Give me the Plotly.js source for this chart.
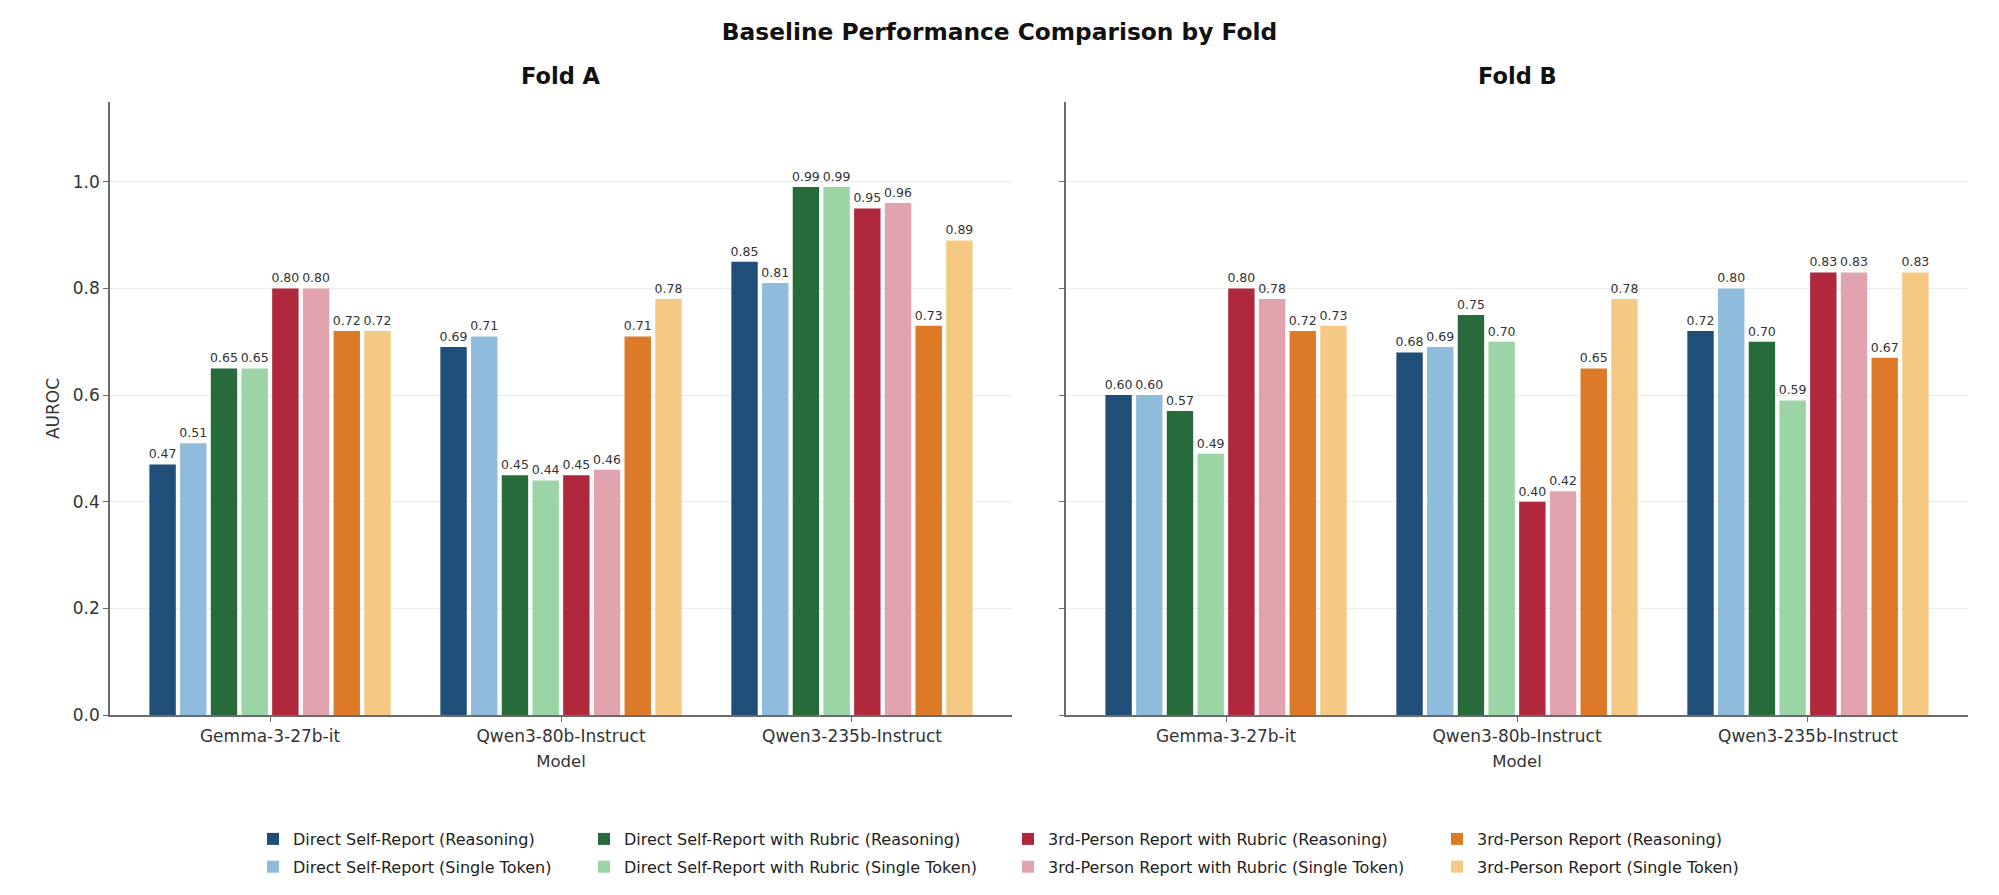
<!DOCTYPE html>
<html>
<head>
<meta charset="utf-8">
<script src="https://cdn.plot.ly/plotly-3.0.1.min.js"></script>
<style>html,body{margin:0;padding:0;background:#fff;}#chart{width:1999px;height:895px;}</style>
</head>
<body>
<div id="chart"></div>
<script>
// ---- data ----
const models = ['Gemma-3-27b-it', 'Qwen3-80b-Instruct', 'Qwen3-235b-Instruct'];
const methods = [
  'Direct Self-Report (Reasoning)',
  'Direct Self-Report (Single Token)',
  'Direct Self-Report with Rubric (Reasoning)',
  'Direct Self-Report with Rubric (Single Token)',
  '3rd-Person Report with Rubric (Reasoning)',
  '3rd-Person Report with Rubric (Single Token)',
  '3rd-Person Report (Reasoning)',
  '3rd-Person Report (Single Token)'
];
const colors = ['#1f4e79', '#8fbbdd', '#276b3a', '#9bd4a5', '#b0283c', '#e1a3ae', '#dd7a28', '#f5c983'];

// AUROC per model, in method order
const foldA_gemma   = [0.47, 0.51, 0.65, 0.65, 0.80, 0.80, 0.72, 0.72];
const foldA_qwen80  = [0.69, 0.71, 0.45, 0.44, 0.45, 0.46, 0.71, 0.78];
const foldA_qwen235 = [0.85, 0.81, 0.99, 0.99, 0.95, 0.96, 0.73, 0.89];
const foldB_gemma   = [0.60, 0.60, 0.57, 0.49, 0.80, 0.78, 0.72, 0.73];
const foldB_qwen80  = [0.68, 0.69, 0.75, 0.70, 0.40, 0.42, 0.65, 0.78];
const foldB_qwen235 = [0.72, 0.80, 0.70, 0.59, 0.83, 0.83, 0.67, 0.83];

const yTickVals = [0, 0.2, 0.4, 0.6, 0.8, 1.0];

// ---- build ----
const FONT = 'DejaVu Sans, Liberation Sans, sans-serif';
const W = 1999, H = 895;
const foldA = [foldA_gemma, foldA_qwen80, foldA_qwen235];
const foldB = [foldB_gemma, foldB_qwen80, foldB_qwen235];
const legendIds = ['legend', 'legend2', 'legend3', 'legend4'];

const traces = [];
[foldA, foldB].forEach((fold, f) => {
  methods.forEach((m, i) => {
    traces.push({
      type: 'bar',
      name: m,
      x: models,
      y: fold.map(row => row[i]),
      xaxis: f === 0 ? 'x' : 'x2',
      yaxis: f === 0 ? 'y' : 'y2',
      marker: {color: colors[i], line: {width: 0}},
      texttemplate: '%{y:.2f}',
      textposition: 'outside',
      textfont: {family: FONT, size: 12.5, color: '#333333'},
      constraintext: 'none',
      cliponaxis: false,
      legendgroup: m,
      legend: legendIds[Math.floor(i / 2)],
      showlegend: f === 0,
      hovertemplate: '%{x}<br>' + m + ': %{y:.2f}<extra></extra>'
    });
  });
});

const px = v => v / W;
const py = v => 1 - v / H;

const xCommon = {
  type: 'category',
  range: [-0.55, 2.55],
  showline: true, linecolor: '#6b6b6b', linewidth: 1.5,
  ticks: 'outside', ticklen: 5, tickcolor: '#6b6b6b', tickwidth: 1.2,
  showgrid: false, zeroline: false,
  tickfont: {family: FONT, size: 17, color: '#333333'},
  title: {text: 'Model', font: {family: FONT, size: 16.5, color: '#333333'}, standoff: 10}
};
const yCommon = {
  range: [0, 1.15],
  tickvals: yTickVals,
  tickformat: '.1f',
  showline: true, linecolor: '#6b6b6b', linewidth: 1.5,
  ticks: 'outside', ticklen: 5, tickcolor: '#6b6b6b', tickwidth: 1.2,
  showgrid: true, gridcolor: '#ececec', gridwidth: 1,
  zeroline: false,
  tickfont: {family: FONT, size: 17, color: '#333333'},
  domain: [py(715.2), py(101.7)]
};

const legendBase = {
  orientation: 'v',
  yanchor: 'top', xanchor: 'left',
  y: py(822),
  font: {family: FONT, size: 16, color: '#222222'},
  bgcolor: 'rgba(0,0,0,0)',
  borderwidth: 0,
  tracegroupgap: 4,
  itemclick: 'toggle'
};

const layout = {
  width: W, height: H,
  margin: {l: 0, r: 0, t: 0, b: 0},
  paper_bgcolor: '#ffffff',
  plot_bgcolor: '#ffffff',
  barmode: 'group',
  bargap: 0.156,
  bargroupgap: 0.14,
  font: {family: FONT, color: '#333333'},
  title: {
    text: 'Baseline Performance Comparison by Fold',
    font: {family: FONT, size: 23.3, color: '#111111', weight: 'bold'},
    x: 0.5, xanchor: 'center', y: py(32), yanchor: 'middle'
  },
  xaxis: Object.assign({}, xCommon, {domain: [px(110), px(1012)], anchor: 'y'}),
  xaxis2: Object.assign({}, xCommon, {domain: [px(1066), px(1968)], anchor: 'y2'}),
  yaxis: Object.assign({}, yCommon, {
    anchor: 'x',
    title: {text: 'AUROC', font: {family: FONT, size: 17, color: '#333333'}, standoff: 9}
  }),
  yaxis2: Object.assign({}, yCommon, {anchor: 'x2', matches: 'y', showticklabels: false}),
  annotations: [
    {text: 'Fold A', xref: 'paper', yref: 'paper', x: px(561), y: py(76), xanchor: 'center', yanchor: 'middle',
     showarrow: false, font: {family: FONT, size: 22.5, color: '#111111', weight: 'bold'}},
    {text: 'Fold B', xref: 'paper', yref: 'paper', x: px(1517), y: py(76), xanchor: 'center', yanchor: 'middle',
     showarrow: false, font: {family: FONT, size: 22.5, color: '#111111', weight: 'bold'}}
  ],
  legend:  Object.assign({}, legendBase, {x: px(253)}),
  legend2: Object.assign({}, legendBase, {x: px(584)}),
  legend3: Object.assign({}, legendBase, {x: px(1008)}),
  legend4: Object.assign({}, legendBase, {x: px(1437)})
};

Plotly.newPlot('chart', traces, layout, {displayModeBar: false, responsive: false});
</script>
</body>
</html>
